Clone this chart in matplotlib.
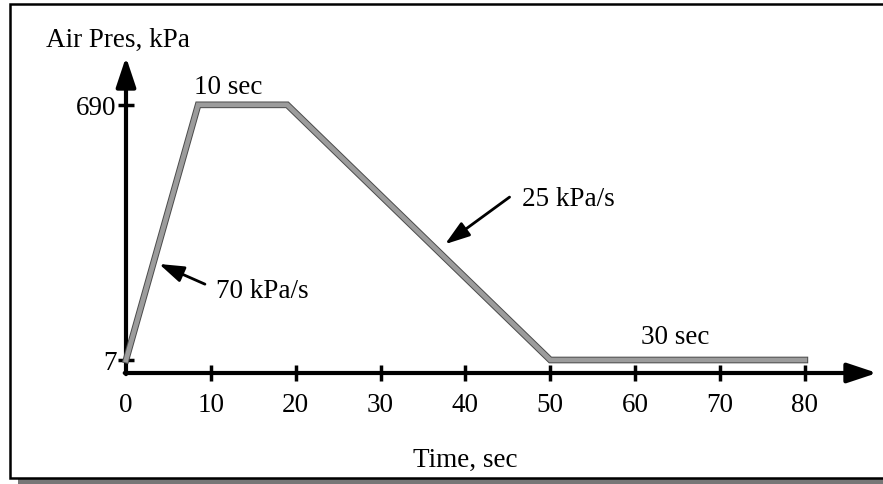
import matplotlib
matplotlib.use("Agg")
import matplotlib.pyplot as plt
import matplotlib.patheffects as pe
from matplotlib.patches import Rectangle

# pressure profile: ramp up, hold, ramp down, hold
time_s = [0, 8.5, 19, 50, 80]
pressure_kpa = [7, 690, 690, 7, 7]

x_ticks = [10, 20, 30, 40, 50, 60, 70, 80]
y_ticks = [7, 690]

W, H = 883, 485
FS = 19.5
plt.rcParams['font.family'] = ['Liberation Serif', 'DejaVu Serif']

fig = plt.figure(figsize=(W / 100, H / 100), dpi=100)

# outer frame with drop shadow
fig.patches.append(Rectangle((18 / W, 0), 1, 5 / H, transform=fig.transFigure,
                             facecolor='#777777', edgecolor='none', zorder=-2))
fig.patches.append(Rectangle((10 / W, 6 / H), 1, (480 - 6) / H, transform=fig.transFigure,
                             facecolor='white', edgecolor='black', linewidth=1.8, zorder=-1))

# axes placed so the origin sits at (126, 374) px
x0, x1 = 126, 877
y0, y1 = 374, 58
ax = fig.add_axes([x0 / W, (H - y0) / H, (x1 - x0) / W, (y0 - y1) / H])
xmin, xmax = 0, 88.5
ymin, ymax = -27.8, 818
ax.set_xlim(xmin, xmax)
ax.set_ylim(ymin, ymax)
ax.patch.set_alpha(0)
for s in ax.spines.values():
    s.set_visible(False)

# axis lines with arrow heads
axis_arrow = dict(arrowstyle='-|>,head_length=1.8,head_width=0.6', color='black',
                  lw=3, mutation_scale=10, shrinkA=0, shrinkB=0)
ax.annotate('', xy=(xmax, ymin), xytext=(xmin - 0.15, ymin), arrowprops=axis_arrow,
            annotation_clip=False)
ax.annotate('', xy=(xmin, ymax), xytext=(xmin, ymin - 3), arrowprops=axis_arrow,
            annotation_clip=False)

ax.set_xticks(x_ticks)
ax.set_yticks(y_ticks)
ax.tick_params(axis='both', direction='inout', length=12, width=2.5,
               labelsize=FS)
ax.tick_params(axis='x', pad=8)
ax.tick_params(axis='y', pad=1)
# origin label sits under the y axis without a tick mark
ax.text(0, ymin, '0', fontsize=FS, ha='center', va='top',
        transform=ax.transData + matplotlib.transforms.ScaledTranslation(0, -14 / 72, fig.dpi_scale_trans))

ax.plot(time_s, pressure_kpa, color='#9c9c9c', linewidth=3.4, solid_joinstyle='miter',
        zorder=3, clip_on=False,
        path_effects=[pe.Stroke(linewidth=4.8, foreground='#4a4a4a'), pe.Normal()])

ax.text(12.1, 740, '10 sec', fontsize=FS, ha='center', va='center')
ax.text(64.7, 70, '30 sec', fontsize=FS, ha='center', va='center')
ax.text(46.7, 440, '25 kPa/s', fontsize=FS, ha='left', va='center')
ax.text(10.6, 192, '70 kPa/s', fontsize=FS, ha='left', va='center')

arrow = dict(arrowstyle='-|>,head_length=1.5,head_width=0.5', color='black', lw=2,
             mutation_scale=10, shrinkA=0, shrinkB=0)
ax.annotate('', xy=(37.6, 317), xytext=(45.2, 443), arrowprops=arrow)
ax.annotate('', xy=(3.9, 264), xytext=(9.3, 210), arrowprops=arrow)

fig.text(118 / W, 1 - 40 / H, 'Air Pres, kPa', fontsize=FS, ha='center', va='center')
fig.text(465 / W, 1 - 460 / H, 'Time, sec', fontsize=FS, ha='center', va='center')

fig.savefig('out.png', dpi=100)
